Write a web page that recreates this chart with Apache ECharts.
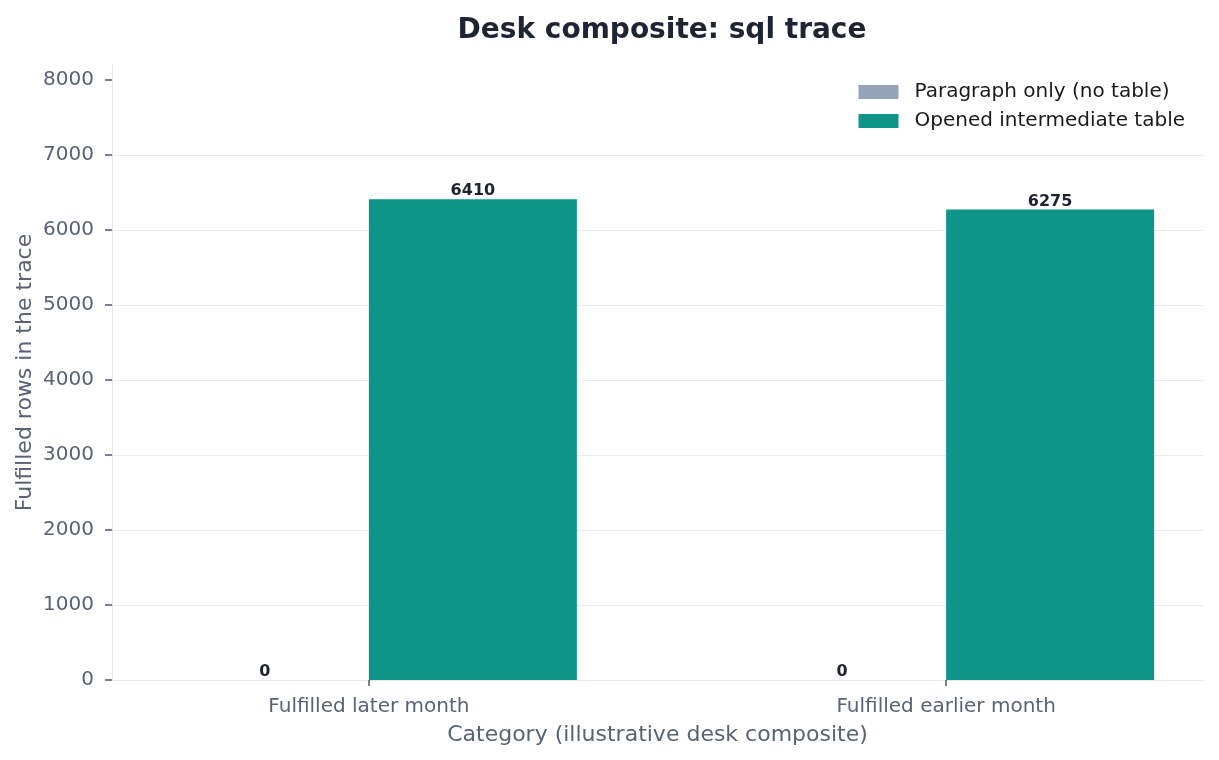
<html>
<head>
    <meta charset="UTF-8">
    <title>Desk composite: sql trace</title>
    <script src="https://cdn.jsdelivr.net/npm/echarts@6/dist/echarts.min.js"></script>
</head>
<body style="margin:0;background:#fff;">
    <div id="container" style="width:1219px;height:760px;"></div>
</body>
<script>
    var categories = ['Fulfilled later month', 'Fulfilled earlier month'];
    var seriesNames = ['Paragraph only (no table)', 'Opened intermediate table'];
    var paragraphOnly = [0, 0];
    var openedTable = [6410, 6275];
    var yTicks = [0, 1000, 2000, 3000, 4000, 5000, 6000, 7000, 8000];

    var font = 'DejaVu Sans';
    var mycharts = echarts.init(document.getElementById('container'));

    // bars sit on a value x axis so the category centres land where the reference puts them
    function toPoints(values) {
        return values.map(function (v, i) { return [i, v]; });
    }

    var labelStyle = {
        show: true,
        position: 'top',
        distance: 0,
        fontFamily: font,
        fontWeight: 'bold',
        fontSize: 16,
        color: '#1f2330'
    };

    var option = {
        animation: false,
        title: {
            text: 'Desk composite: sql trace',
            left: 657,
            top: 12,
            textAlign: 'center',
            textStyle: { fontFamily: font, fontSize: 28, fontWeight: 'bold', color: '#1f2433' }
        },
        legend: {
            orient: 'vertical',
            right: 29,
            top: 77,
            itemWidth: 40,
            itemHeight: 14,
            itemGap: 9,
            icon: 'rect',
            data: seriesNames,
            textStyle: { fontFamily: font, fontSize: 20, color: '#1a1a1a', padding: [0, 0, 0, 11] }
        },
        grid: { left: 112, right: 16, top: 65, bottom: 80 },
        xAxis: {
            type: 'value',
            min: -0.445,
            max: 1.445,
            name: 'Category (illustrative desk composite)',
            nameLocation: 'middle',
            nameGap: 44,
            nameMoveOverlap: false,
            nameTextStyle: { fontFamily: font, fontSize: 22, color: '#5a6275' },
            axisLine: { show: true, lineStyle: { color: '#e3e6eb', width: 1 } },
            axisTick: { show: true, customValues: [0, 1], length: 6, lineStyle: { color: '#4f586a', width: 1.5 } },
            axisLabel: {
                customValues: [0, 1],
                margin: 17,
                fontFamily: font,
                fontSize: 20,
                color: '#5a6275',
                formatter: function (v) { return categories[Math.round(v)]; }
            },
            splitLine: { show: false }
        },
        yAxis: {
            type: 'value',
            min: 0,
            max: 8200,
            interval: 1000,
            name: 'Fulfilled rows in the trace',
            nameLocation: 'middle',
            nameGap: 76,
            nameMoveOverlap: false,
            nameTextStyle: { fontFamily: font, fontSize: 22, color: '#5a6275' },
            axisLine: { show: true, onZero: false, lineStyle: { color: '#e3e6eb', width: 1 } },
            axisTick: { show: true, length: 7, lineStyle: { color: '#4f586a', width: 1.5 }, customValues: yTicks },
            axisLabel: {
                customValues: yTicks,
                margin: 18,
                fontFamily: font,
                fontSize: 20,
                color: '#5a6275',
                formatter: function (v) { return String(v); }
            },
            splitLine: { show: true, showMaxLine: false, lineStyle: { color: '#e8eaee', width: 1 } }
        },
        series: [
            {
                name: seriesNames[0],
                type: 'bar',
                barWidth: 208,
                barGap: '0%',
                itemStyle: { color: '#94a3b8' },
                label: labelStyle,
                data: toPoints(paragraphOnly)
            },
            {
                name: seriesNames[1],
                type: 'bar',
                barWidth: 208,
                barGap: '0%',
                itemStyle: { color: '#0e9488' },
                label: labelStyle,
                data: toPoints(openedTable)
            }
        ]
    };
    mycharts.setOption(option);
</script>
</html>
